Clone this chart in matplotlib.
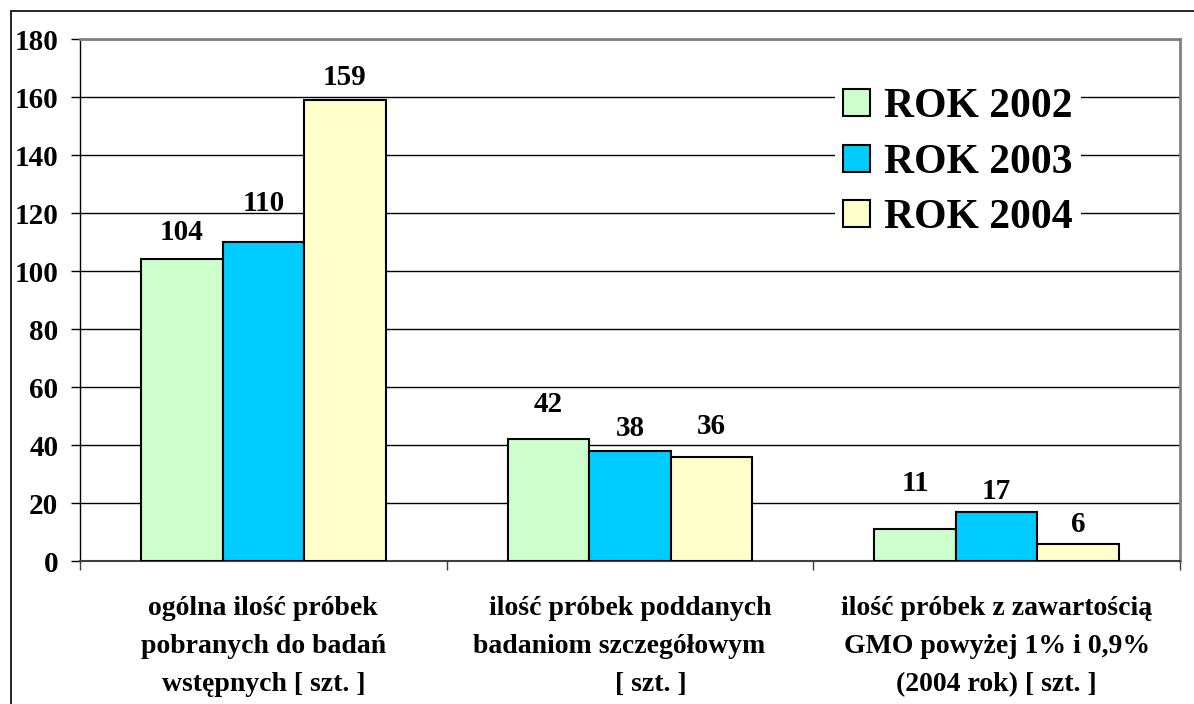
import matplotlib
matplotlib.use("Agg")
import matplotlib.pyplot as plt
from matplotlib.patches import Rectangle
import numpy as np

categories = [
    "ogólna ilość próbek\npobranych do badań\nwstępnych [ szt. ]",
    "ilość próbek poddanych\nbadaniom szczegółowym   \n      [ szt. ]",
    "ilość próbek z zawartością\nGMO powyżej 1% i 0,9%\n(2004 rok) [ szt. ]",
]
series_names = ["ROK 2002", "ROK 2003", "ROK 2004"]
values_2002 = [104, 42, 11]
values_2003 = [110, 38, 17]
values_2004 = [159, 36, 6]
yticks = [0, 20, 40, 60, 80, 100, 120, 140, 160, 180]

colors = ["#CCFFCC", "#00CCFF", "#FFFFCC"]
# per-label vertical gap above bar top (pixels), as in the original placement
label_gaps = [[13, 21, 32], [25, 9, 7], [9, 17, 6]]

plt.rcParams['font.family'] = ['Liberation Serif', 'DejaVu Serif']
plt.rcParams['font.weight'] = 'bold'

W, H = 1194, 704
fig = plt.figure(figsize=(W / 100, H / 100), dpi=100)
ax = fig.add_axes([80 / W, 1 - 561 / H, (1180 - 80) / W, (561 - 39) / H])

x = np.arange(len(categories))
bw = 0.2222
series = [values_2002, values_2003, values_2004]
for i, (vals, name, col) in enumerate(zip(series, series_names, colors)):
    bars = ax.bar(x + (i - 1) * bw, vals, bw, color=col, edgecolor="black",
                  linewidth=1.5, label=name, zorder=3)
    for j, (b, v) in enumerate(zip(bars, vals)):
        ax.annotate(str(v), (b.get_x() + b.get_width() / 2, v),
                    xytext=(0, label_gaps[i][j] * 0.72), textcoords="offset points",
                    ha="center", va="bottom", fontsize=21, fontweight="bold", zorder=5)

ax.set_xlim(-0.5, 2.5)
ax.set_ylim(0, 180)
ax.set_yticks(yticks)
ax.set_yticklabels([str(t) for t in yticks], fontsize=21, fontweight="bold")
ax.tick_params(axis="y", direction="out", length=6.5, width=1, color="black", pad=9)
ax.yaxis.grid(True, color="black", linewidth=1, zorder=0)
ax.set_axisbelow(True)

ax.set_xticks(x)
ax.set_xticklabels(categories, fontsize=20, fontweight="bold", linespacing=1.7)
ax.tick_params(axis="x", which="major", length=0, pad=25)
ax.set_xticks([-0.5, 0.5, 1.5, 2.5], minor=True)
ax.tick_params(axis="x", which="minor", direction="out", length=6.5, width=1, color="#404040")

ax.spines["left"].set_color("black")
ax.spines["left"].set_linewidth(1)
ax.spines["bottom"].set_color("#404040")
ax.spines["bottom"].set_linewidth(1.5)
ax.spines["top"].set_color("#808080")
ax.spines["top"].set_linewidth(2)
ax.spines["right"].set_color("#808080")
ax.spines["right"].set_linewidth(2)

leg = ax.legend(loc="upper left", bbox_to_anchor=(835 / W, 1 - 80 / H),
                bbox_transform=fig.transFigure, fontsize=30, frameon=True,
                handlelength=0.63, handleheight=0.63, handletextpad=0.35,
                labelspacing=0.42, borderpad=0.2, borderaxespad=0, fancybox=False)
leg.get_frame().set_facecolor("white")
leg.get_frame().set_edgecolor("none")
leg.get_frame().set_alpha(1)
leg.set_zorder(10)
for t in leg.get_texts():
    t.set_fontweight("bold")

fig.patches.append(Rectangle((11 / W, -0.1), 1.2, 1 - 11 / H + 0.1, transform=fig.transFigure,
                             fill=False, edgecolor="black", linewidth=1.2))

fig.savefig("out.png", dpi=100)
